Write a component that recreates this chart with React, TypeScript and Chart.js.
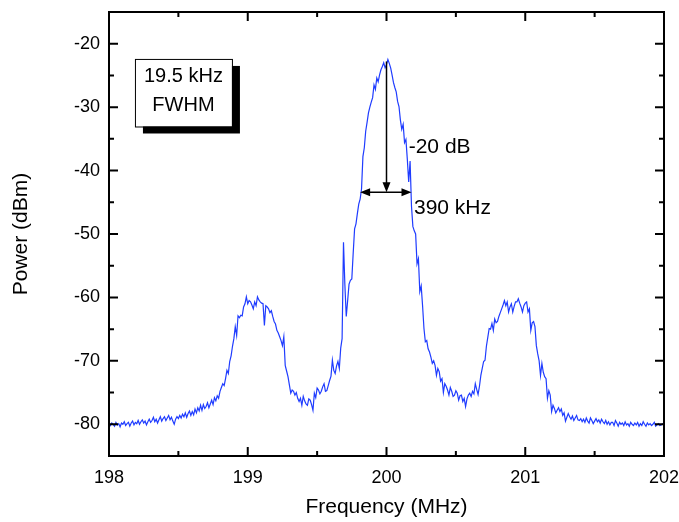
import React, { useEffect, useRef } from 'react';
import { Chart, registerables } from 'chart.js';

Chart.register(...registerables);

// Frequency sampling (MHz)
const freqStart = 198;
const freqStep = 0.01;

// Measured power (dBm), one value per 0.01 MHz from 198.00 to 202.00
const power: number[] = [
  -79.9, -80.2, -79.8, -80.0, -80.3, -79.7, -80.1, -79.9, -80.4, -79.8,
  -80.0, -79.6, -80.2, -79.9, -79.7, -80.3, -79.8, -79.5, -80.1, -79.7,
  -79.9, -79.4, -80.0, -79.6, -79.3, -79.8, -79.5, -80.1, -79.6, -79.2,
  -79.7, -79.4, -78.9, -79.6, -79.2, -79.8, -79.3, -78.8, -79.5, -79.1,
  -78.8, -79.4, -79.0, -78.6, -79.3, -78.9, -79.5, -80.0, -79.2, -78.8,
  -79.1, -78.6, -79.0, -78.4, -78.8, -78.2, -78.9, -78.3, -77.9, -78.6,
  -78.0, -78.5, -77.6, -78.2, -77.4, -77.9, -77.0, -77.8, -76.9, -77.5,
  -77.2, -76.6, -77.4, -76.8, -76.2, -76.9, -75.8, -76.3, -75.5, -75.9,
  -74.8, -74.2, -73.6, -73.9, -72.8, -71.5, -72.0, -70.1, -69.2, -67.7,
  -66.5, -64.6, -66.0, -62.9, -63.2, -62.8, -62.9, -61.5, -61.0, -59.9,
  -61.0, -60.5, -60.7, -61.2, -61.8, -60.7, -61.3, -59.9, -60.4, -60.7,
  -60.9, -61.0, -64.4, -61.3, -61.5, -61.8, -62.4, -62.1, -63.0, -63.8,
  -64.2, -65.2, -65.6, -66.2, -66.8, -67.6, -66.2, -70.7, -71.6, -72.5,
  -73.8, -75.1, -74.6, -74.8, -75.4, -75.0, -75.9, -76.4, -75.9, -77.0,
  -75.6, -76.3, -76.8, -77.0, -76.0, -76.2, -76.9, -77.8, -75.1, -75.8,
  -74.3, -74.6, -75.2, -74.8, -74.1, -73.6, -74.8, -74.7, -73.9, -73.1,
  -72.4, -69.9, -71.5, -72.0, -70.8, -70.1, -71.2, -68.0, -66.5, -51.3,
  -58.0, -63.0, -60.5, -57.9, -57.3, -57.1, -53.0, -49.2, -48.4, -46.8,
  -45.3, -44.5, -42.9, -37.8, -36.4, -33.8, -32.4, -30.9, -30.0, -29.2,
  -28.5, -26.5, -27.2, -25.4, -26.0, -24.9, -24.1, -23.6, -23.0, -23.8,
  -23.3, -22.5, -23.1, -23.8, -24.9, -26.1, -26.9, -27.6, -29.1, -29.9,
  -32.0, -33.5, -32.7, -35.6, -35.1, -38.2, -41.8, -38.5, -45.6, -48.8,
  -49.5, -50.0, -54.7, -53.9, -59.1, -58.2, -61.3, -64.9, -67.0, -66.8,
  -68.1, -68.6, -69.4, -70.4, -70.0, -70.7, -72.3, -71.2, -71.7, -73.2,
  -72.8, -75.0, -73.6, -74.0, -74.6, -75.4, -74.2, -74.8, -75.6, -75.4,
  -74.7, -75.1, -76.2, -75.5, -75.4, -76.4, -75.9, -77.2, -76.0, -75.4,
  -75.1, -75.6, -74.8, -75.2, -73.6, -74.5, -75.3, -74.0, -72.3, -71.2,
  -70.1, -69.9, -67.7, -66.3, -64.9, -65.0, -64.1, -65.2, -63.4, -64.0,
  -63.8, -63.0, -62.4, -61.8, -61.2, -60.5, -61.3, -60.7, -62.3, -61.5,
  -61.0, -62.3, -61.4, -60.7, -60.7, -60.2, -60.9, -61.5, -62.3, -61.3,
  -60.9, -60.7, -62.3, -61.8, -65.2, -64.0, -63.8, -64.6, -67.6, -68.9,
  -70.0, -72.3, -70.4, -71.8, -72.5, -72.8, -75.9, -74.7, -75.4, -78.0,
  -77.0, -77.5, -78.2, -77.8, -77.4, -78.0, -77.6, -78.6, -78.2, -79.5,
  -78.9, -78.3, -78.8, -79.2, -78.7, -79.4, -79.0, -78.6, -79.3, -79.4,
  -79.1, -79.6, -79.2, -79.7, -79.0, -79.5, -79.8, -79.0, -79.4, -79.9,
  -79.5, -79.1, -79.6, -79.3, -79.8, -79.2, -79.6, -79.9, -79.4, -80.0,
  -79.6, -80.1, -79.7, -79.7, -80.2, -79.4, -79.8, -80.3, -79.7, -80.0,
  -79.8, -80.2, -79.6, -80.1, -79.9, -80.3, -79.7, -80.0, -80.2, -79.8,
  -80.1, -79.7, -80.3, -79.9, -80.2, -79.6, -80.0, -80.3, -79.8, -80.1,
  -79.9, -80.2, -80.0, -79.7, -80.3, -80.1, -79.9, -80.2, -80.1, -79.9,
  -80.0,
];

const xMajorTicks = [198, 199, 200, 201, 202];
const xMinorTicks = [198.5, 199.5, 200.5, 201.5];
const yMajorTicks = [-80, -70, -60, -50, -40, -30, -20];
const yMinorTicks = [-85, -75, -65, -55, -45, -35, -25, -15];

const boxLines = ['19.5 kHz', 'FWHM'];
const dbLabel = '-20 dB';
const widthLabel = '390 kHz';

const FONT = '"Liberation Sans", Arial, Helvetica, sans-serif';

function arrowHead(ctx: CanvasRenderingContext2D, x: number, y: number, ang: number) {
  const len = 10;
  const hw = 4;
  ctx.beginPath();
  ctx.moveTo(x, y);
  ctx.lineTo(x - len * Math.cos(ang) - hw * Math.sin(ang), y - len * Math.sin(ang) + hw * Math.cos(ang));
  ctx.lineTo(x - len * Math.cos(ang) + hw * Math.sin(ang), y - len * Math.sin(ang) - hw * Math.cos(ang));
  ctx.closePath();
  ctx.fill();
}

const framePlugin = {
  id: 'frameAndNotes',
  afterDraw(chart: any) {
    const { ctx, chartArea: a, scales } = chart;
    const xs = scales.x;
    const ys = scales.y;
    ctx.save();
    ctx.strokeStyle = '#000';
    ctx.fillStyle = '#000';
    ctx.lineWidth = 2;
    ctx.strokeRect(a.left, a.top, a.right - a.left, a.bottom - a.top);

    const tick = (px: number, len: number, horizontal: boolean) => {
      ctx.beginPath();
      if (horizontal) {
        ctx.moveTo(px, a.bottom);
        ctx.lineTo(px, a.bottom - len);
        ctx.moveTo(px, a.top);
        ctx.lineTo(px, a.top + len);
      } else {
        ctx.moveTo(a.left, px);
        ctx.lineTo(a.left + len, px);
        ctx.moveTo(a.right, px);
        ctx.lineTo(a.right - len, px);
      }
      ctx.stroke();
    };
    xMajorTicks.forEach((v) => tick(xs.getPixelForValue(v), 9, true));
    xMinorTicks.forEach((v) => tick(xs.getPixelForValue(v), 5, true));
    yMajorTicks.forEach((v) => tick(ys.getPixelForValue(v), 9, false));
    yMinorTicks.forEach((v) => tick(ys.getPixelForValue(v), 5, false));

    // FWHM box with shadow
    const bl = xs.getPixelForValue(198.187);
    const br = xs.getPixelForValue(198.886);
    const bt = ys.getPixelForValue(-22.4);
    const bb = ys.getPixelForValue(-33.05);
    ctx.fillStyle = '#000';
    ctx.fillRect(bl + 8, bt + 7, br - bl, bb - bt);
    ctx.fillStyle = '#fff';
    ctx.fillRect(bl, bt, br - bl, bb - bt);
    ctx.lineWidth = 1;
    ctx.strokeRect(bl + 0.5, bt + 0.5, br - bl, bb - bt);
    ctx.fillStyle = '#000';
    ctx.font = `20px ${FONT}`;
    ctx.textAlign = 'center';
    ctx.textBaseline = 'middle';
    const cx = (bl + br) / 2;
    ctx.fillText(boxLines[0], cx, bt + 18);
    ctx.fillText(boxLines[1], cx, bt + 47);

    // -20 dB arrows
    ctx.lineWidth = 1.5;
    const ax = xs.getPixelForValue(200.0);
    const aTop = ys.getPixelForValue(-22.8);
    const aBot = ys.getPixelForValue(-43.4);
    ctx.beginPath();
    ctx.moveTo(ax, aTop);
    ctx.lineTo(ax, aBot - 8);
    ctx.stroke();
    arrowHead(ctx, ax, aBot, Math.PI / 2);
    const hl = xs.getPixelForValue(199.81);
    const hr = xs.getPixelForValue(200.18);
    ctx.beginPath();
    ctx.moveTo(hl + 8, aBot);
    ctx.lineTo(hr - 8, aBot);
    ctx.stroke();
    arrowHead(ctx, hl, aBot, Math.PI);
    arrowHead(ctx, hr, aBot, 0);

    ctx.font = `21px ${FONT}`;
    ctx.textAlign = 'left';
    ctx.fillText(dbLabel, xs.getPixelForValue(200.16), ys.getPixelForValue(-36.35));
    ctx.fillText(widthLabel, xs.getPixelForValue(200.198), ys.getPixelForValue(-46.0));
    ctx.restore();
  },
};

const zeroPadding = (s: any) => {
  s.paddingTop = 0;
  s.paddingBottom = 0;
  s.paddingLeft = 0;
  s.paddingRight = 0;
};

export default function App() {
  const ref = useRef<HTMLCanvasElement | null>(null);
  useEffect(() => {
    if (!ref.current) return;
    const data = power.map((p, i) => ({ x: Math.round((freqStart + i * freqStep) * 100) / 100, y: p }));
    const chart = new Chart(ref.current, {
      type: 'line',
      data: {
        datasets: [
          {
            data,
            borderColor: '#1f3cff',
            borderWidth: 1.2,
            pointRadius: 0,
            tension: 0,
            fill: false,
          },
        ],
      },
      options: {
        animation: false,
        responsive: false,
        devicePixelRatio: 1,
        layout: { padding: { top: 12, right: 15, left: 0, bottom: 0 } },
        plugins: { legend: { display: false }, tooltip: { enabled: false } },
        scales: {
          x: {
            type: 'linear',
            min: 198,
            max: 202,
            grid: { display: false, drawTicks: false },
            border: { display: false },
            afterBuildTicks: (s: any) => {
              s.ticks = xMajorTicks.map((v) => ({ value: v }));
            },
            afterFit: (s: any) => {
              s.height = 66;
              zeroPadding(s);
            },
            ticks: {
              color: '#000',
              font: { family: FONT, size: 18 },
              padding: 11,
              maxRotation: 0,
              autoSkip: false,
              callback: (v: any) => String(v),
            },
            title: {
              display: true,
              text: 'Frequency (MHz)',
              color: '#000',
              font: { family: FONT, size: 21 },
              padding: { top: 0, bottom: 2 },
            },
          },
          y: {
            type: 'linear',
            min: -85,
            max: -15,
            grid: { display: false, drawTicks: false },
            border: { display: false },
            afterBuildTicks: (s: any) => {
              s.ticks = yMajorTicks.map((v) => ({ value: v }));
            },
            afterFit: (s: any) => {
              s.width = 109;
              zeroPadding(s);
            },
            ticks: {
              color: '#000',
              font: { family: FONT, size: 18 },
              padding: 9,
              autoSkip: false,
              callback: (v: any) => String(v),
            },
            title: {
              display: true,
              text: 'Power (dBm)',
              color: '#000',
              font: { family: FONT, size: 21 },
              padding: { top: 9, bottom: 0 },
            },
          },
        },
      },
      plugins: [framePlugin],
    });
    return () => chart.destroy();
  }, []);
  return (
    <div style={{ position: 'fixed', left: 0, top: 0, width: 679, height: 522, background: '#fff' }}>
      <canvas ref={ref} width={679} height={522} />
    </div>
  );
}
